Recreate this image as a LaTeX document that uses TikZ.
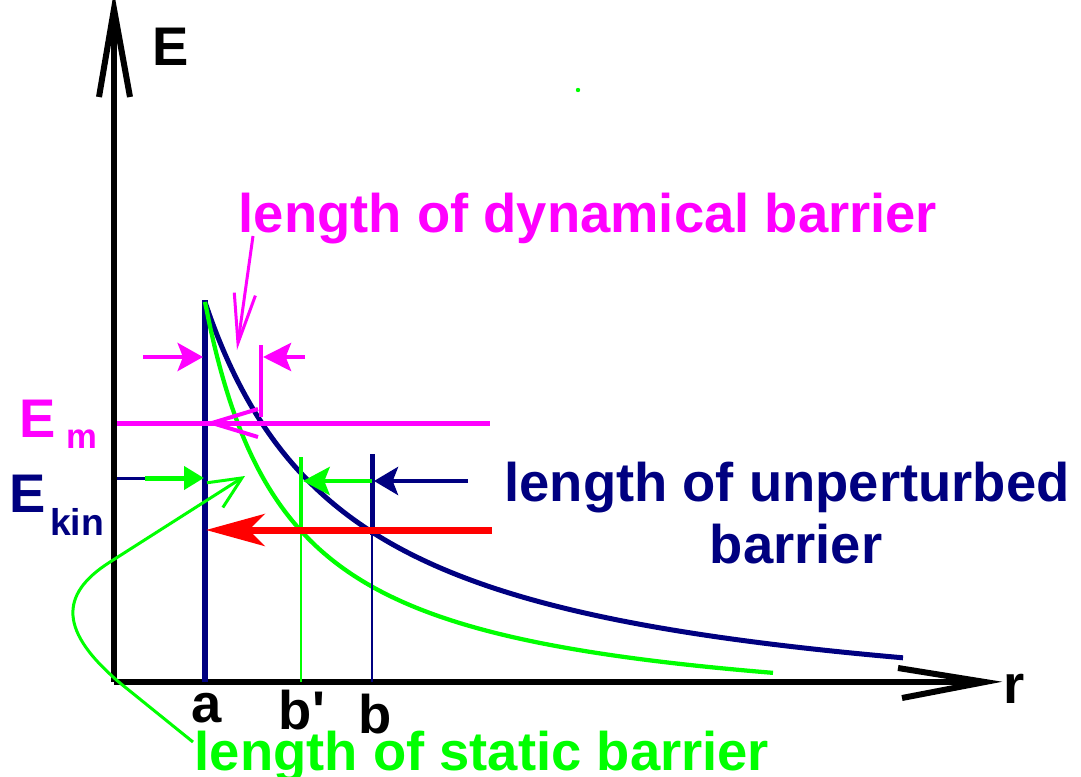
\documentclass[tikz,border=0pt]{standalone}
\usepackage{fontspec}
\setmainfont{Liberation Sans}
\usetikzlibrary{arrows.meta}
\definecolor{navy}{RGB}{0,0,128}
\definecolor{mag}{RGB}{255,0,255}
\definecolor{grn}{RGB}{0,255,0}
\definecolor{rd}{RGB}{255,0,0}
\begin{document}
\begin{tikzpicture}[x=0.75pt,y=-0.75pt,
  lab/.style={font=\fontsize{40.8}{48}\selectfont\bfseries, inner sep=0pt, anchor=base},
  sublab/.style={font=\fontsize{#1}{#1}\selectfont\bfseries, inner sep=0pt, anchor=base},
  axis/.style={line width=5pt, black},
  axishead/.style={line width=4.5pt, black, line join=miter},
  curve/.style={line width=#1, line join=round},
  dimarrow/.style={line width=3.5pt, -{Stealth[length=#1, width=21pt, inset=4pt]}},
  pointer/.style={line width=2.25pt, -{Straight Barb[length=#1, width=16pt]}}
]
\useasboundingbox (0,0) rectangle (1081,777);
% named points
\coordinate (O) at (114,682);
\coordinate (Ytop) at (114,12);
\coordinate (Xend) at (982,682);
\coordinate (Atop) at (205,300);
\coordinate (Abot) at (205,682);
% axes
\draw[axis] (O) -- (Ytop);
\draw[axis] (O) -- (Xend);
\coordinate (YhL) at (99,97); \coordinate (YhT) at (114,9); \coordinate (YhR) at (130,97);
\draw[axishead] (YhL) -- (YhT) -- (YhR);
\coordinate (XhU) at (898,668); \coordinate (XhT) at (985,682); \coordinate (XhD) at (902,698);
\draw[axishead] (XhU) -- (XhT) -- (XhD);
% vertical line at a
\draw[navy, line width=4.5pt] (Atop) -- (Abot);
% barrier curves
\draw[navy, curve=3.75pt] plot[domain=205:903, samples=120, smooth] (\x, {682 - (622.97/((\x-60)/100) - 49.7)});
\draw[grn, curve=3.2pt] plot[domain=205:773, samples=120, smooth] (\x, {682 - (348.06/((\x-123)/100) - 44.4)});
% b' and b markers
\coordinate (Bpt) at (301,457); \coordinate (Bpm) at (301,530); \coordinate (Bpb) at (301,682);
\draw[grn, line width=3pt] (Bpt) -- (Bpm);
\draw[grn, line width=1.5pt] (Bpm) -- (Bpb);
\coordinate (Bt) at (372,454); \coordinate (Bm) at (372,535); \coordinate (Bb) at (372,682);
\draw[navy, line width=3.75pt] (Bt) -- (Bm);
\draw[navy, line width=1.5pt] (Bm) -- (Bb);
% E_m line and open arrowhead
\coordinate (EmL) at (117,423); \coordinate (EmR) at (490,423);
\draw[mag, line width=3.75pt] (EmL) -- (EmR);
\coordinate (EmhU) at (258,409); \coordinate (EmhT) at (212,423); \coordinate (EmhD) at (258,437);
\draw[mag, line width=3pt] (EmhU) -- (EmhT) -- (EmhD);
% dynamical barrier markers
\coordinate (DLs) at (143,357); \coordinate (DLe) at (203,357);
\draw[mag, dimarrow=19pt] (DLs) -- (DLe);
\coordinate (DRs) at (305,357); \coordinate (DRe) at (263,357);
\draw[mag, dimarrow=21pt] (DRs) -- (DRe);
\coordinate (DTt) at (261,345); \coordinate (DTb) at (261,417);
\draw[mag, line width=3pt] (DTt) -- (DTb);
% E_kin line
\coordinate (EkL) at (117,478); \coordinate (EkM) at (145,478); \coordinate (EkR) at (204,478);
\draw[navy, line width=2.25pt] (EkL) -- (EkM);
\draw[grn, line width=3.75pt, -{Triangle[length=15pt, width=17pt]}] (EkM) -- (EkR);
% unperturbed/static arrows
\coordinate (Gs) at (372,481); \coordinate (Ge) at (303,481);
\draw[grn, dimarrow=20pt] (Gs) -- (Ge);
\coordinate (Ns) at (468,481); \coordinate (Ne) at (374,481);
\draw[navy, dimarrow=18pt] (Ns) -- (Ne);
% red arrow
\coordinate (Rs) at (492,530); \coordinate (Re) at (206,530);
\draw[rd, line width=5.25pt, -{Stealth[length=44pt, width=24pt, inset=12pt]}] (Rs) -- (Re);
% labels
\node[lab] (lE) at (171,66) {E};
\node[lab] (lr) at (1014,703) {r};
\node[lab] (la) at (207,722) {a};
\node[lab] (lbp) at (302,729) {b\textquotesingle};
\node[lab] (lb) at (375,733) {b};
\node[lab, mag] (ldyn) at (588,233) {length of dynamical barrier};
\node[lab, navy] (lunp) at (787,501) {length of unperturbed};
\node[lab, navy] (lbar) at (796,563) {barrier};
\node[lab, grn] (lstat) at (482,770) {length of static barrier};
\node[lab, mag] (lEm) at (38,437) {E};
\node[sublab=26, mag] (lm) at (82,448) {m};
\node[lab, navy] (lEk) at (28,512) {E};
\node[sublab=28, navy] (lkin) at (77,535) {kin};
% pointers
\coordinate (Pd1) at (253,236); \coordinate (Pd2) at (237,350);
\draw[mag, pointer=37pt] (Pd1) -- (Pd2);
\coordinate (Ps0) at (193,742); \coordinate (Ps1) at (120,683); \coordinate (Ps2) at (110,562); \coordinate (Ps3) at (245,476);
\draw[grn, line width=2.25pt, line join=round, -{Straight Barb[length=24pt, width=22pt]}] (Ps0) -- (Ps1) .. controls (60,632) and (58,595) .. (Ps2) -- (Ps3);
% stray dot
\fill[grn] (578,90) circle (2.2);
\end{tikzpicture}
\end{document}
